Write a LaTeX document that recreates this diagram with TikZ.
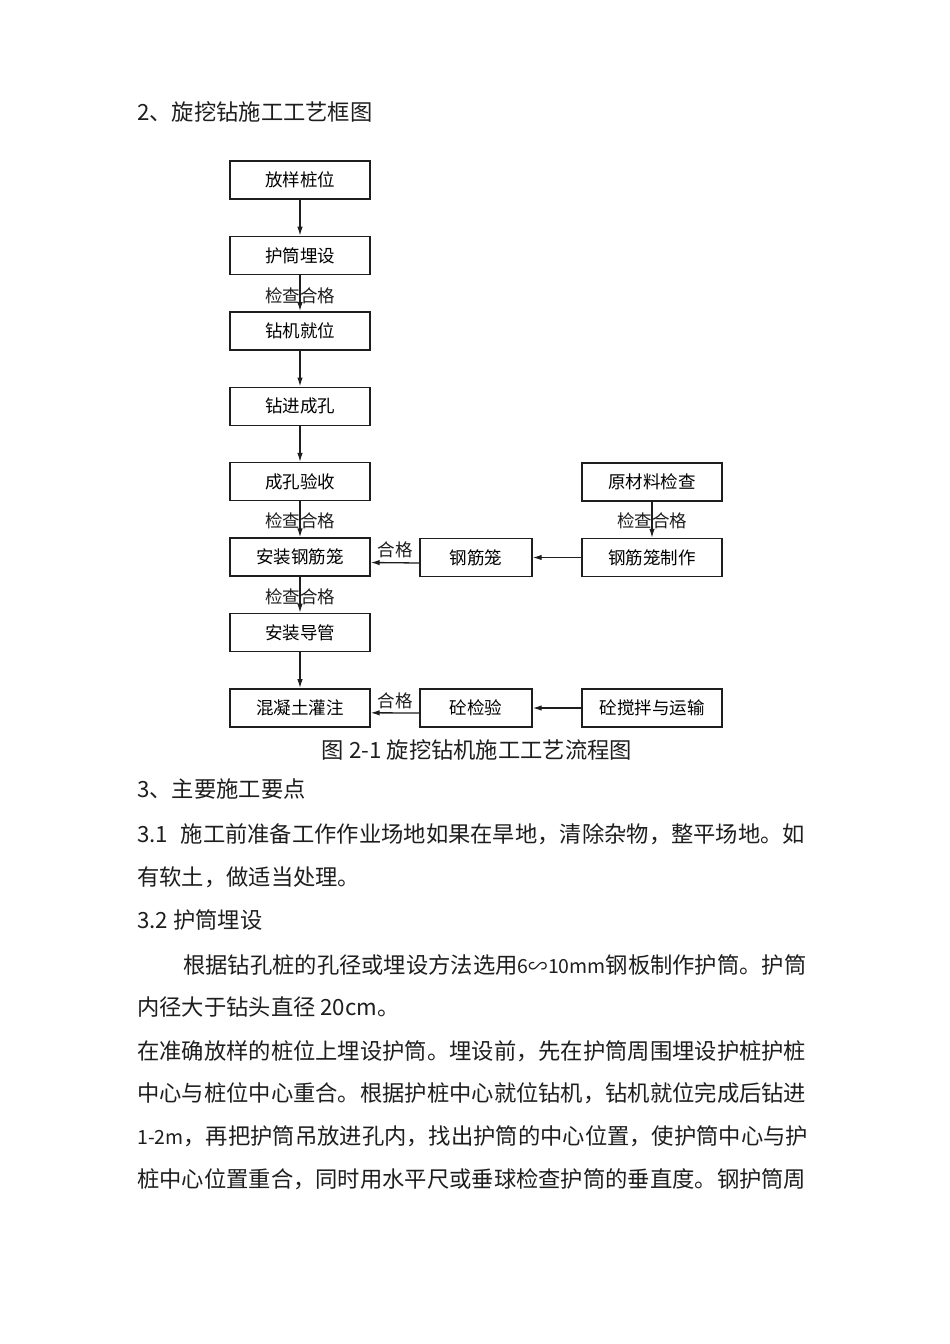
\documentclass[tikz,border=0pt]{standalone}
\usepackage{fontspec}
\setmainfont{Noto Sans CJK SC}
\usetikzlibrary{arrows.meta,positioning}
\XeTeXlinebreaklocale "zh"
\XeTeXlinebreakskip=0pt plus 2pt minus 1.2pt
\definecolor{ink}{RGB}{30,30,30}
\tikzset{
  >={Latex[length=9pt,width=5.5pt]},
  stepbox/.style={draw=ink,line width=1.4pt,minimum height=38pt,minimum width=#1,
    inner sep=0pt,font=\fontsize{17.5}{20}\selectfont},
  stepbox/.default=140pt,
  flow/.style={->,line width=1.3pt,draw=ink},
  tag/.style={inner sep=0pt,text=ink,font=\fontsize{17.5}{20}\selectfont},
  para/.style={anchor=west,inner sep=0pt,text=ink,font=\fontsize{22.3}{26}\selectfont},
}
\newcommand{\fline}[2][668pt]{\makebox[#1][s]{#2}}
\newcommand{\lat}[1]{{\fontsize{19.5}{20}\selectfont #1}}

\begin{document}
\begin{tikzpicture}[x=1pt,y=-1pt]
  \path[use as bounding box,fill=white] (0,0) rectangle (950,1344);
  \node[para] (title) at (137,112) {2、旋挖钻施工工艺框图};
  % main column
  \foreach \t [count=\i from 0] in {放样桩位,护筒埋设,钻机就位,钻进成孔,
      成孔验收,安装钢筋笼,安装导管,混凝土灌注}
    \node[stepbox] (b\i) at (300,{180+75.4*\i}) {\t};
  \node[stepbox] (raw) at (652,482) {原材料检查};
  \node[stepbox] (make) at (652,557.5) {钢筋笼制作};
  \node[stepbox=112pt] (cage) at (476,557.5) {钢筋笼};
  \node[stepbox] (mix) at (652,708) {砼搅拌与运输};
  \node[stepbox=112pt] (test) at (476,708) {砼检验};
  \foreach \n/\x/\y in {q1/300/296,q2/300/521,q3/300/597,q4/652/521}
    \node[tag] (\n) at (\x,\y) {检查合格};
  \node[tag] (ok1) at (395,550) {合格};
  \node[tag] (ok2) at (395,701) {合格};
  \foreach \i in {0,...,6}{
    \pgfmathtruncatemacro\j{\i+1}
    \draw[flow] (b\i) -- (b\j);
  }
  \draw[flow] (raw) -- (make);
  \draw[flow] (make) -- (cage);
  \draw[flow] ([yshift=-5.5pt]cage.west) -- ([yshift=-5.5pt]b5.east);
  \draw[flow] (mix) -- (test);
  \draw[flow] ([yshift=-5pt]test.west) -- ([yshift=-5pt]b7.east);
  \node[para,anchor=center] (cap) at (477,750) {图 2-1 旋挖钻机施工工艺流程图};
  % text below
  \node[para] (l1) at (137,789) {3、主要施工要点};
  \node[para] (l2) at (137,834) {\fline{3.1 施工前准备工作作业场地如果在旱地，清除杂物，整平场地。如}};
  \node[para] (l3) at (137,877) {有软土，做适当处理。};
  \node[para] (l4) at (137,920) {3.2 护筒埋设};
  \node[para] (l5) at (183,965) {\fline[622pt]{根据钻孔桩的孔径或埋设方法选用\lat{6∽10mm}钢板制作护筒。护筒}};
  \node[para] (l6) at (137,1007) {内径大于钻头直径 20cm。};
  \node[para] (l7) at (137,1051) {\fline{在准确放样的桩位上埋设护筒。埋设前，先在护筒周围埋设护桩护桩}};
  \node[para] (l8) at (137,1093) {\fline{中心与桩位中心重合。根据护桩中心就位钻机，钻机就位完成后钻进}};
  \node[para] (l9) at (137,1136) {\fline{\lat{1-2m}，再把护筒吊放进孔内，找出护筒的中心位置，使护筒中心与护}};
  \node[para] (l10) at (137,1179) {\fline{桩中心位置重合，同时用水平尺或垂球检查护筒的垂直度。钢护筒周}};
\end{tikzpicture}
\end{document}
